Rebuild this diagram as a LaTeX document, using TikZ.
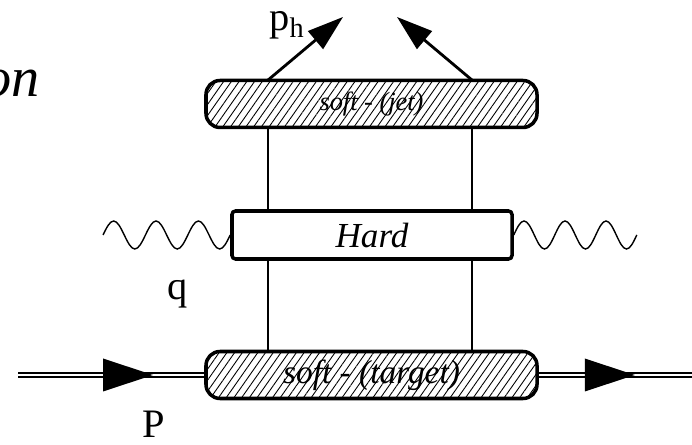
\documentclass[tikz,border=0pt]{standalone}
\usepackage{fontspec}
\setmainfont{Liberation Serif}
\usetikzlibrary{arrows.meta,patterns.meta,decorations.markings}
\tikzset{
  softblob/.style={draw, line width=2pt, rounded corners=8pt, minimum width=6.62cm, minimum height=0.94cm,
    inner sep=0pt, preaction={fill=white}, pattern={Lines[angle=55, distance=3.6pt, line width=0.5pt]}},
  hardbox/.style={draw, line width=2pt, rounded corners=2pt, fill=white, minimum width=5.6cm, minimum height=0.96cm,
    inner sep=0pt, font=\fontsize{20}{24}\selectfont\itshape},
  leg/.style={line width=0.8pt},
  outarr/.style={-{Triangle[length=0.72cm, width=0.46cm]}, line width=1.6pt},
  gluon/.style={line width=0.8pt},
  hadron/.style={double distance=1.6pt, line width=0.9pt},
  tipat/.style={postaction={decorate}, decoration={markings,
    mark=at position #1 with {\fill (0,0) -- (-1cm,0.33cm) -- (-1cm,-0.33cm) -- cycle;}}},
  lbl/.style={font=\fontsize{23}{27}\selectfont, inner sep=0pt},
}
\def\amp{0.28}

\begin{document}
\begin{tikzpicture}
  \useasboundingbox (0,0) rectangle (13.84,8.9);
  % cut-off text from the page
  \node[anchor=base east, inner sep=0pt, font=\fontsize{32}{38}\selectfont\itshape] (frag) at (0.8,6.96) {on};
  % blobs
  \node[softblob, font=\fontsize{15}{18}\selectfont\itshape] (jet) at (7.43,6.82) {soft - (jet)};
  \node[hardbox] (hard) at (7.44,4.2) {Hard};
  \node[softblob, font=\fontsize{19}{23}\selectfont\itshape] (tgt) at (7.43,1.4) {soft - (target)};
  % legs
  \coordinate (xl) at (5.36,0);
  \coordinate (xr) at (9.44,0);
  \draw[leg] (jet.south -| xl) -- (hard.north -| xl);
  \draw[leg] (jet.south -| xr) -- (hard.north -| xr);
  \draw[leg] (hard.south -| xl) -- (tgt.north -| xl);
  \draw[leg] (hard.south -| xr) -- (tgt.north -| xr);
  % outgoing hadrons
  \coordinate (ph) at (6.86,8.56);
  \coordinate (pj) at (7.94,8.56);
  \draw[outarr] (jet.north -| xl) -- (ph);
  \draw[outarr] (jet.north -| xr) -- (pj);
  \node[lbl, anchor=base west] (phl) at (5.38,8.28) {p\textsubscript{h}};
  % photon
  \draw[gluon] (hard.west) \foreach \i in {1,2,3} {
    sin ++(-0.212,-\amp) cos ++(-0.212,\amp) sin ++(-0.212,\amp) cos ++(-0.212,-\amp)};
  \draw[gluon] (hard.east) \foreach \i in {1,2,3} {
    sin ++(0.205,\amp) cos ++(0.205,-\amp) sin ++(0.205,-\amp) cos ++(0.205,\amp)};
  \node[lbl, anchor=base] (ql) at (3.55,2.9) {q};
  % target
  \coordinate (pin) at (0.36,1.4);
  \coordinate (pout) at (13.84,1.4);
  \draw[hadron, tipat=2.7cm] (pin) -- (tgt.west);
  \draw[hadron, tipat=1.92cm] (tgt.east) -- (pout);
  \node[lbl, anchor=base] (Pl) at (3.08,0.14) {P};
\end{tikzpicture}
\end{document}
